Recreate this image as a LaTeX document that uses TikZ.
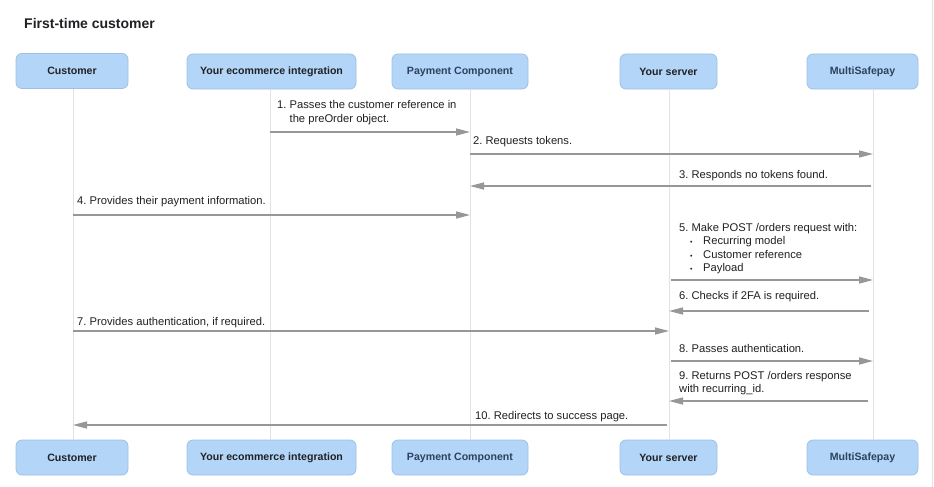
\documentclass[tikz,border=0pt]{standalone}
\usepackage{fontspec}
\setmainfont{Liberation Sans}
\usetikzlibrary{arrows.meta}
\definecolor{boxfill}{HTML}{B3D5F7}
\definecolor{boxdraw}{HTML}{9DC1E6}
\definecolor{lifeclr}{HTML}{E2E2E2}
\definecolor{msgclr}{HTML}{979797}
\definecolor{darkbluetxt}{HTML}{2E4160}
\definecolor{txtclr}{HTML}{202124}
\tikzset{
  actor/.style={draw=boxdraw, line width=0.8pt, fill=boxfill, rounded corners=6pt,
    minimum height=35pt, font=\fontsize{10.6}{13}\selectfont\bfseries, text=txtclr, inner sep=0pt},
  lifeline/.style={draw=lifeclr, line width=1pt},
  msg/.style={draw=msgclr, line width=1.4pt, -{Triangle[length=14pt,width=7pt]}},
  lbl/.style={anchor=north west, inner sep=0pt, font=\fontsize{11.2}{13.5}\selectfont, text=txtclr, align=left},
}
\newcommand{\blt}{\hspace*{11pt}\makebox[13pt][l]{\scriptsize\textbullet}}
\begin{document}
\begin{tikzpicture}[x=1pt,y=-1pt]
\useasboundingbox[fill=white] (0,0) rectangle (934,487);
\draw[lifeclr, line width=1pt] (932.5,0) -- (932.5,487);
\node[anchor=west, inner sep=0pt, font=\fontsize{14}{16}\selectfont\bfseries, text=txtclr] (title) at (24,23.5) {First-time customer};

% top actors
\node[actor, minimum width=112pt] (cT) at (72,71) {Customer};
\node[actor, minimum width=169pt] (eT) at (271.5,71.5) {Your ecommerce integration};
\node[actor, minimum width=136pt, text=darkbluetxt] (pT) at (460,71.5) {Payment Component};
\node[actor, minimum width=97pt] (sT) at (668.5,71.5) {Your server};
\node[actor, minimum width=111pt, text=darkbluetxt] (mT) at (862.5,71.5) {MultiSafepay};
% bottom actors
\node[actor, minimum width=112pt] (cB) at (72,457.5) {Customer};
\node[actor, minimum width=169pt] (eB) at (271.5,457.5) {Your ecommerce integration};
\node[actor, minimum width=136pt, text=darkbluetxt] (pB) at (460,457.5) {Payment Component};
\node[actor, minimum width=97pt] (sB) at (668.5,457.5) {Your server};
\node[actor, minimum width=111pt, text=darkbluetxt] (mB) at (862.5,457.5) {MultiSafepay};

% lifelines
\coordinate (cL) at (73,89);   \coordinate (cLb) at (73,440);
\coordinate (eL) at (270,89);  \coordinate (eLb) at (270,440);
\coordinate (pL) at (470,89);  \coordinate (pLb) at (470,440);
\coordinate (sL) at (669,89);  \coordinate (sLb) at (669,440);
\coordinate (mL) at (873,89);  \coordinate (mLb) at (873,440);
\draw[lifeline] (cL) -- (cLb);
\draw[lifeline] (eL) -- (eLb);
\draw[lifeline] (pL) -- (pLb);
\draw[lifeline] (sL) -- (sLb);
\draw[lifeline] (mL) -- (mLb);

% messages
\draw[msg] (eL |- 0,132) -- (pL |- 0,132);
\node[lbl] (l1) at (277,100.5) {1.~Passes the customer reference in\\\hphantom{1.~}the preOrder object.};

\draw[msg] (pL |- 0,154) -- (mL |- 0,154);
\node[lbl] (l2) at (473,136) {2.~Requests tokens.};

\draw[msg] (871,186) -- (pL |- 0,186);
\node[lbl] (l3) at (679,170) {3.~Responds no tokens found.};

\draw[msg] (cL |- 0,215) -- (pL |- 0,215);
\node[lbl] (l4) at (77,196) {4.~Provides their payment information.};

\draw[msg] (671,280) -- (mL |- 0,280);
\node[lbl] (l5) at (679,223) {5.~Make POST /orders request with:\\
\blt Recurring model\\
\blt Customer reference\\
\blt Payload};

\draw[msg] (869,311) -- (sL |- 0,311);
\node[lbl] (l6) at (679,291) {6.~Checks if 2FA is required.};

\draw[msg] (cL |- 0,331) -- (sL |- 0,331);
\node[lbl] (l7) at (77,317) {7.~Provides authentication, if required.};

\draw[msg] (671,361) -- (mL |- 0,361);
\node[lbl] (l8) at (679,344) {8.~Passes authentication.};

\draw[msg] (868,401) -- (sL |- 0,401);
\node[lbl] (l9) at (679,371) {9.~Returns POST /orders response\\with recurring\_id.};

\draw[msg] (667,425) -- (cL |- 0,425);
\node[lbl] (l10) at (475,411) {10.~Redirects to success page.};
\end{tikzpicture}
\end{document}
